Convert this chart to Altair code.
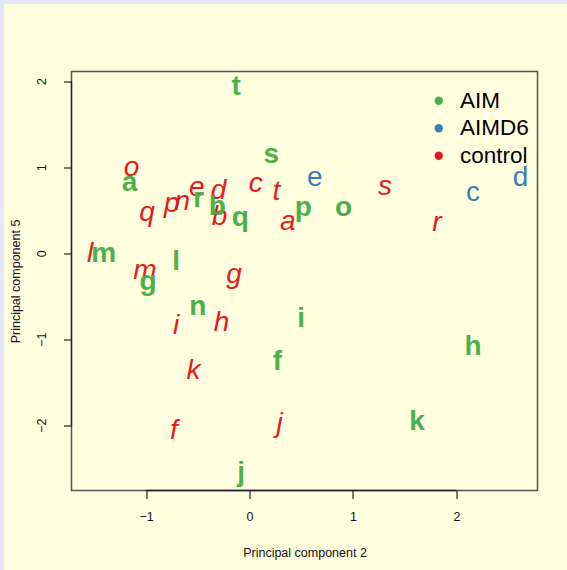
import altair as alt
import pandas as pd

groups = ["AIM", "AIMD6", "control"]
colors = ["#4DAF4A", "#377EB8", "#E41A1C"]

aim_labels = ["a", "b", "f", "g", "h", "i", "j", "k", "l", "m", "n", "o", "p", "q", "r", "s", "t"]
aim_x = [-1.16, -0.31, 0.27, -0.98, 2.16, 0.50, -0.08, 1.62, -0.71, -1.41, -0.50, 0.91, 0.52, -0.09, -0.49, 0.21, -0.13]
aim_y = [0.82, 0.54, -1.27, -0.33, -1.09, -0.77, -2.55, -1.96, -0.10, -0.01, -0.63, 0.52, 0.52, 0.41, 0.63, 1.14, 1.93]

aimd6_labels = ["c", "d", "e"]
aimd6_x = [2.16, 2.62, 0.63]
aimd6_y = [0.70, 0.87, 0.87]

control_labels = ["a", "b", "c", "d", "e", "f", "g", "h", "i", "j", "k", "l", "m", "n", "o", "p", "q", "r", "s", "t"]
control_x = [0.37, -0.29, 0.06, -0.30, -0.51, -0.73, -0.15, -0.27, -0.71, 0.29, -0.54, -1.54, -1.01, -0.65, -1.14, -0.75, -0.99, 1.81, 1.31, 0.26]
control_y = [0.36, 0.42, 0.80, 0.72, 0.76, -2.07, -0.25, -0.81, -0.85, -1.98, -1.37, -0.01, -0.21, 0.60, 0.99, 0.57, 0.47, 0.35, 0.77, 0.71]

x_ticks = [-1, 0, 1, 2]
y_ticks = [-2, -1, 0, 1, 2]

rows = []
for g, labs, xs, ys in [("control", control_labels, control_x, control_y),
                        ("AIM", aim_labels, aim_x, aim_y),
                        ("AIMD6", aimd6_labels, aimd6_x, aimd6_y)]:
    for l, xv, yv in zip(labs, xs, ys):
        rows.append({"group": g, "label": l, "pc2": xv, "pc5": yv})
df = pd.DataFrame(rows)

W, H = 466, 419
PAD = {"left": 71.5, "top": 71.5, "right": 29.5, "bottom": 79.5}
FONT = "Liberation Sans"

xscale = alt.Scale(domain=[-1.72, 2.783], nice=False, zero=False)
yscale = alt.Scale(domain=[-2.758, 2.112], nice=False, zero=False)

xaxis = alt.Axis(values=x_ticks, title="Principal component 2", domain=False, grid=False,
                 tickSize=8, tickColor="#222", tickWidth=1.2,
                 labelFont=FONT, labelFontSize=12.5, labelColor="#111", labelPadding=12,
                 labelFlush=False, labelOverlap=False,
                 titleFont=FONT, titleFontSize=12.5, titleFontWeight="normal", titleColor="#111",
                 titleX=W / 2, titleY=62, titleBaseline="middle", titleAlign="center", zindex=1)
yaxis = alt.Axis(values=y_ticks, title="Principal component 5", domain=False, grid=False,
                 tickSize=8, tickColor="#222", tickWidth=1.2,
                 labelFont=FONT, labelFontSize=12.5, labelColor="#111", labelPadding=15,
                 labelAngle=270, labelAlign="center", labelBaseline="bottom",
                 labelFlush=False, labelOverlap=False,
                 titleFont=FONT, titleFontSize=12.5, titleFontWeight="normal", titleColor="#111",
                 titleAngle=270, titleX=-56.5, titleY=H / 2, titleBaseline="middle", titleAlign="center",
                 zindex=1)

color = alt.Color("group:N", scale=alt.Scale(domain=groups, range=colors),
                  legend=alt.Legend(title=None, orient="none", legendX=356, legendY=18,
                                    symbolType="circle", symbolSize=70, symbolStrokeWidth=0,
                                    symbolOpacity=1, labelFont=FONT, labelFontSize=22.5,
                                    labelColor="black", labelOffset=10, rowPadding=4.5, padding=0))


def text_layer(g, weight, style):
    return alt.Chart(df).transform_filter(alt.datum.group == g).mark_text(
        font=FONT, fontSize=28, fontWeight=weight, fontStyle=style,
        align="center", baseline="middle"
    ).encode(
        x=alt.X("pc2:Q", scale=xscale, axis=xaxis),
        y=alt.Y("pc5:Q", scale=yscale, axis=yaxis),
        text="label:N",
        color=color,
    )


one = alt.Data(values=[{"k": 1}])

x_axis_line = alt.Chart(pd.DataFrame({"lo": [min(x_ticks)], "hi": [max(x_ticks)]})).mark_rule(
    color="#222", strokeWidth=1.3
).encode(x=alt.X("lo:Q", scale=xscale, axis=xaxis), x2="hi:Q", y=alt.value(H))

y_axis_line = alt.Chart(pd.DataFrame({"lo": [min(y_ticks)], "hi": [max(y_ticks)]})).mark_rule(
    color="#222", strokeWidth=1.3
).encode(y=alt.Y("lo:Q", scale=yscale, axis=yaxis), y2="hi:Q", x=alt.value(0))

lav_left = alt.Chart(one).mark_rule(color="#E6E6FA", strokeWidth=4).encode(
    x=alt.value(2 - PAD["left"]), y=alt.value(-PAD["top"]), y2=alt.value(H + PAD["bottom"]))
lav_top = alt.Chart(one).mark_rule(color="#E6E6FA", strokeWidth=4).encode(
    y=alt.value(2 - PAD["top"]), x=alt.value(-PAD["left"]), x2=alt.value(W + PAD["right"]))

chart = alt.layer(
    x_axis_line, y_axis_line,
    text_layer("control", "normal", "italic"),
    text_layer("AIM", "bold", "normal"),
    text_layer("AIMD6", "normal", "normal"),
    lav_left, lav_top,
).properties(
    width=W, height=H, background="#FFFFE0", padding=PAD,
    autosize=alt.AutoSizeParams(type="none"),
).configure_view(stroke="#555", strokeWidth=1.5)

chart.save("out.html", embed_options={"renderer": "svg", "actions": False})
